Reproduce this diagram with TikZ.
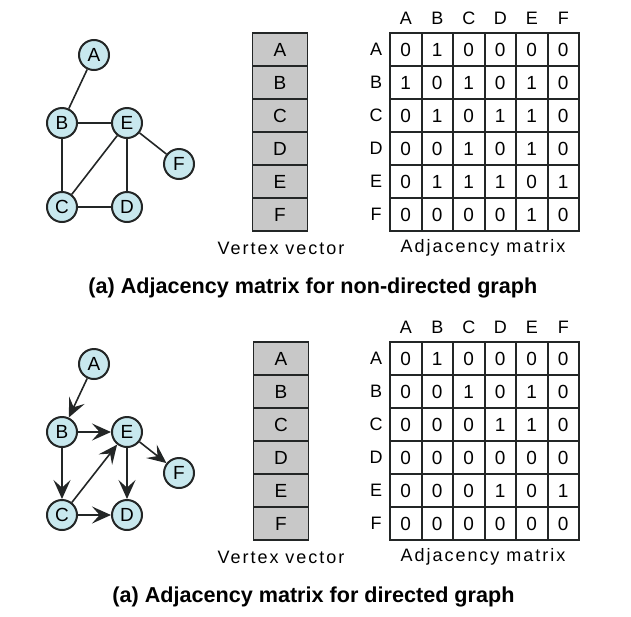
\documentclass[tikz,border=0pt]{standalone}
\usepackage{fontspec}
\setmainfont{Liberation Sans}
\newfontfamily\spaced{Liberation Sans}[LetterSpace=11]
\usetikzlibrary{arrows.meta}
\definecolor{vtxblue}{RGB}{200,232,238}
\definecolor{inkgray}{RGB}{35,38,38}
\definecolor{cellgray}{RGB}{200,200,200}
\tikzset{
  vtx/.style={circle,draw=inkgray,line width=1pt,fill=vtxblue,minimum size=15pt,inner sep=0pt,font=\fontsize{9.5}{10}\selectfont},
  conn/.style={draw=inkgray,line width=0.8pt},
  dconn/.style={conn,-{Stealth[length=9.5pt,width=8.5pt,inset=3.8pt]}},
  vcell/.style={rectangle,draw=inkgray,line width=0.8pt,fill=cellgray,minimum width=27.5pt,minimum height=16.5pt,inner sep=0pt,font=\fontsize{9.5}{10}\selectfont},
  mcell/.style={rectangle,draw=inkgray,line width=1pt,minimum width=15.75pt,minimum height=16.5pt,inner sep=0pt,font=\fontsize{9.5}{10}\selectfont},
  lbl/.style={inner sep=0pt,font=\spaced\fontsize{9}{10}\selectfont},
  caption/.style={inner sep=0pt,anchor=west,font=\fontsize{10.8}{12}\selectfont\bfseries}
}
\begin{document}
\begin{tikzpicture}[x=0.5pt,y=-0.5pt]
\useasboundingbox (0,0) rectangle (631,616);
% (a) non-directed graph, its vertex vector and matrix
\begin{scope}
\foreach \n/\x/\y in {A/94/55,B/62/123,E/127/123,F/179/164,C/62/207,D/127/207}
  \node[vtx] (u\n) at (\x,\y) {\n};
\foreach \a/\b in {A/B,B/E,B/C,C/E,C/D,E/D,E/F} \draw[conn] (u\a) -- (u\b);
\foreach \l [count=\i] in {A,B,C,D,E,F}{
  \node[vcell] (uv\l) at (280,{33*\i+16.5}) {\l};
  \node[lbl] (uc\l) at ({390+31.5*\i-15.75},18) {\l};
  \node[lbl] (ur\l) at (376,{33*\i+16.5}) {\l};
}
\foreach \row [count=\r] in {{0,1,0,0,0,0},{1,0,1,0,1,0},{0,1,0,1,1,0},{0,0,1,0,1,0},{0,1,1,1,0,1},{0,0,0,0,1,0}}
  \foreach \v [count=\c] in \row
    \node[mcell] (um\r\c) at ({390+31.5*\c-15.75},{33*\r+16.5}) {\v};
\node[lbl] (uvcap) at (281,248) {Vertex vector};
\node[lbl] (umcap) at (483,248) {Adjacency matrix};
\node[caption] (ucap) at (88,288) {(a) Adjacency matrix for non-directed graph};
\end{scope}
% (b) directed graph, same layout one panel lower
\begin{scope}[yshift=-154.5pt]
\foreach \n/\x/\y in {A/94/55,B/62/123,E/127/123,F/179/164,C/62/206,D/127/206}
  \node[vtx] (d\n) at (\x,\y) {\n};
\foreach \a/\b in {A/B,B/E,B/C,C/E,C/D,E/D,E/F} \draw[dconn] (d\a) -- (d\b);
\foreach \l [count=\i] in {A,B,C,D,E,F}{
  \node[vcell] (dv\l) at (281,{33*\i+16.5}) {\l};
  \node[lbl] (dc\l) at ({390+31.5*\i-15.75},18) {\l};
  \node[lbl] (dr\l) at (376,{33*\i+16.5}) {\l};
}
\foreach \row [count=\r] in {{0,1,0,0,0,0},{0,0,1,0,1,0},{0,0,0,1,1,0},{0,0,0,0,0,0},{0,0,0,1,0,1},{0,0,0,0,0,0}}
  \foreach \v [count=\c] in \row
    \node[mcell] (dm\r\c) at ({390+31.5*\c-15.75},{33*\r+16.5}) {\v};
\node[lbl] (dvcap) at (281,248) {Vertex vector};
\node[lbl] (dmcap) at (483,248) {Adjacency matrix};
\node[caption] (dcap) at (112,288) {(a) Adjacency matrix for directed graph};
\end{scope}
\end{tikzpicture}
\end{document}
